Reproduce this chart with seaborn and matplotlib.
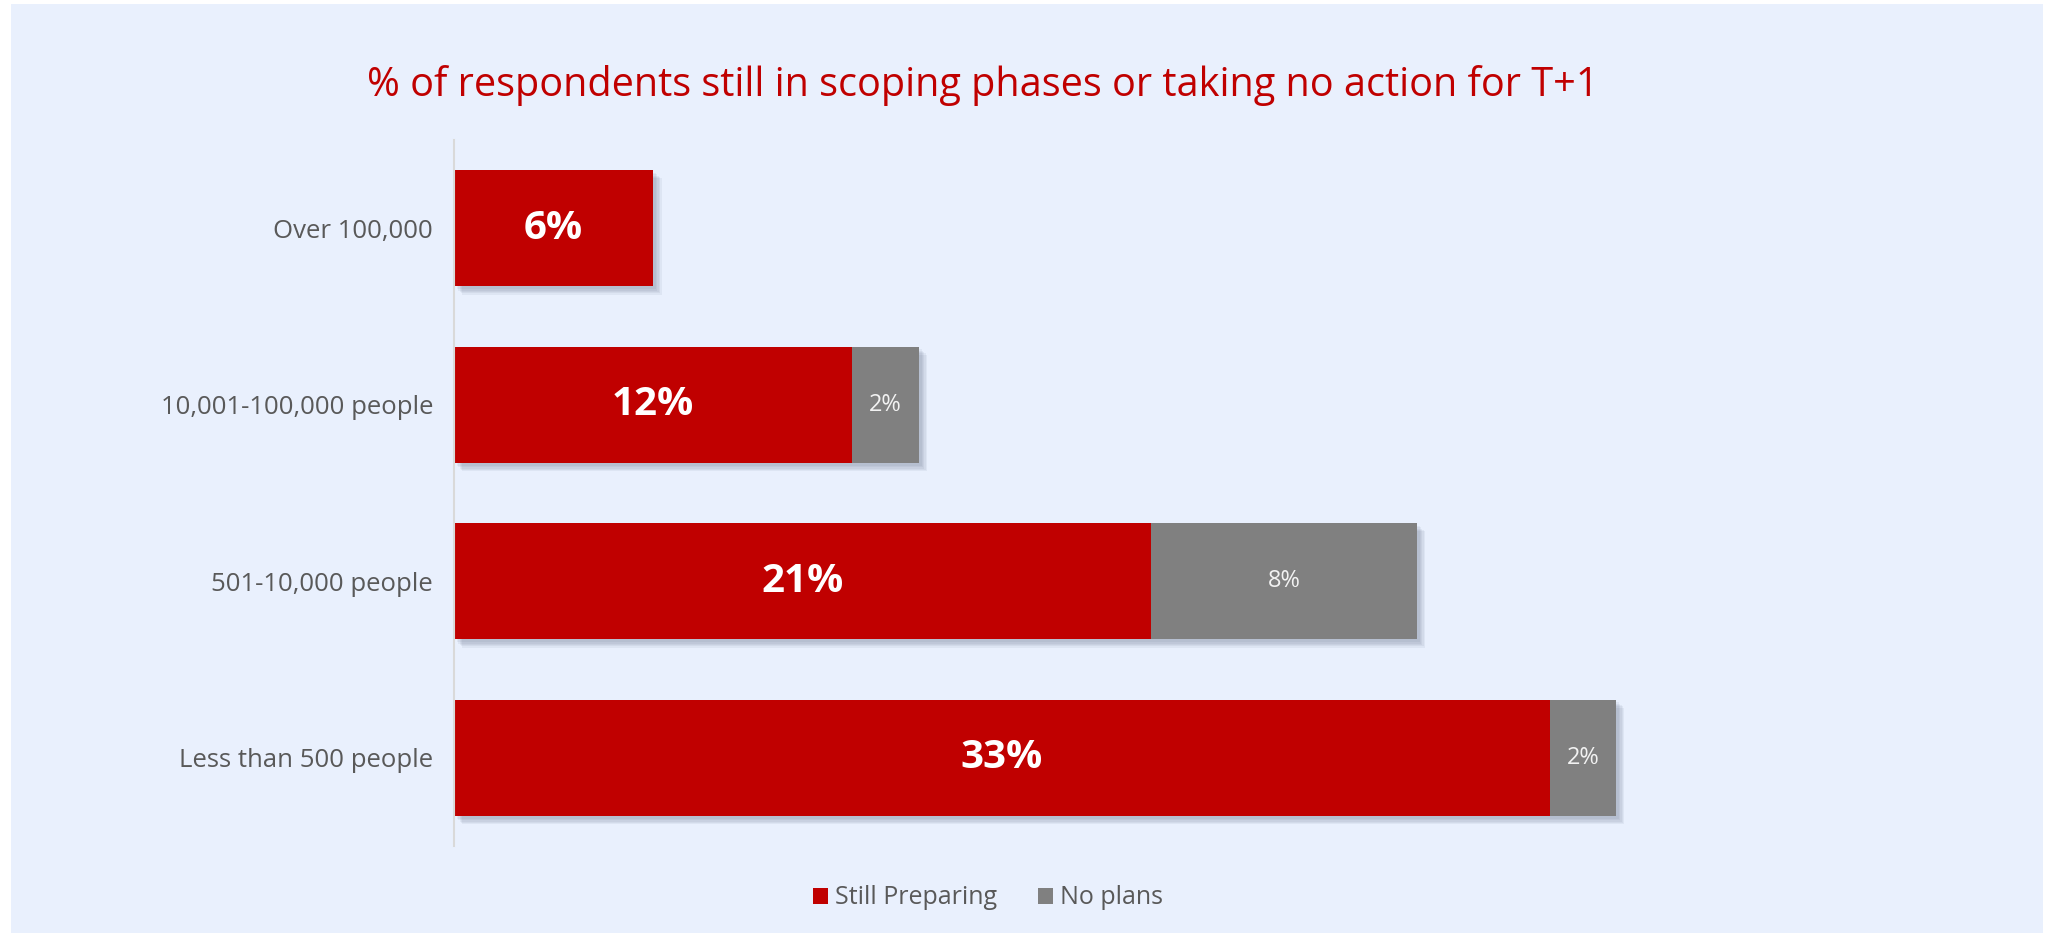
import matplotlib
matplotlib.use("Agg")
import matplotlib.pyplot as plt
import matplotlib.patheffects as pe
from matplotlib.patches import Rectangle, Patch
import pandas as pd
import seaborn as sns

# ---- data ----
categories = ["Over 100,000", "10,001-100,000 people", "501-10,000 people", "Less than 500 people"]
still_preparing = [6, 12, 21, 33]
no_plans = [0, 2, 8, 2]
series_names = ["Still Preparing", "No plans"]
title_text = "% of respondents still in scoping phases or taking no action for T+1"

RED = "#C00000"
GREY = "#808080"
PANEL = "#E9F0FD"
TEXT = "#595959"

sns.set_theme(style="white")
plt.rcParams["font.family"] = ["Open Sans", "DejaVu Sans"]

W, H = 2047, 933
fig = plt.figure(figsize=(W / 100, H / 100), dpi=100)
fig.patch.set_facecolor("white")
fig.add_artist(Rectangle((11 / W, 0), (2043 - 11) / W, (H - 4) / H,
                         transform=fig.transFigure, facecolor=PANEL,
                         edgecolor="none", zorder=-10))

ax = fig.add_axes([454 / W, (H - 846) / H, 1328 / W, 706 / H])
ax.set_facecolor("none")

df = pd.DataFrame({
    "group": categories,
    "still": still_preparing,
    "none": no_plans,
})
df["total"] = df["still"] + df["none"]

# full-length bar (grey) carries the soft drop shadow; red segment sits on top
shadow = [pe.SimplePatchShadow(offset=(d, -d), shadow_rgbFace="#4a5670", alpha=0.07)
          for d in (6, 5, 4, 3, 2)] + [pe.Normal()]
sns.barplot(data=df, x="total", y="group", color=GREY, width=0.66,
            saturation=1, ax=ax, orient="h", linewidth=0, edgecolor="none")
for p in ax.patches:
    p.set_path_effects(shadow)
sns.barplot(data=df, x="still", y="group", color=RED, width=0.66,
            saturation=1, ax=ax, orient="h", linewidth=0, edgecolor="none")

ax.set_xlim(0, 40)
ax.set_ylim(3.5, -0.5)
ax.set_xlabel("")
ax.set_ylabel("")
ax.set_xticks([])
for s in ["top", "right", "bottom"]:
    ax.spines[s].set_visible(False)
ax.spines["left"].set_color("#D9D9D9")
ax.spines["left"].set_linewidth(1.5)
ax.tick_params(axis="y", length=0, pad=15, labelsize=18.5, labelcolor=TEXT)

# value labels
for i, (s, n) in enumerate(zip(still_preparing, no_plans)):
    ax.text(s / 2, i, f"{s}%", ha="center", va="center", color="white",
            fontsize=29, fontweight="bold")
    if n > 0:
        ax.text(s + n / 2, i, f"{n}%", ha="center", va="center",
                color="#F2F2F2", fontsize=17)

fig.text(983 / W, 1 - 85 / H, title_text, ha="center", va="center",
         color=RED, fontsize=28.5)

handles = [Patch(facecolor=RED, edgecolor="none"), Patch(facecolor=GREY, edgecolor="none")]
leg = fig.legend(handles, series_names, loc="center", ncol=2,
                 bbox_to_anchor=(988 / W, 1 - 898 / H), frameon=False,
                 fontsize=18, handlelength=0.6, handleheight=0.6,
                 handletextpad=0.3, columnspacing=1.6)
for t in leg.get_texts():
    t.set_color(TEXT)

fig.savefig("out.png", dpi=100, facecolor=fig.get_facecolor())
